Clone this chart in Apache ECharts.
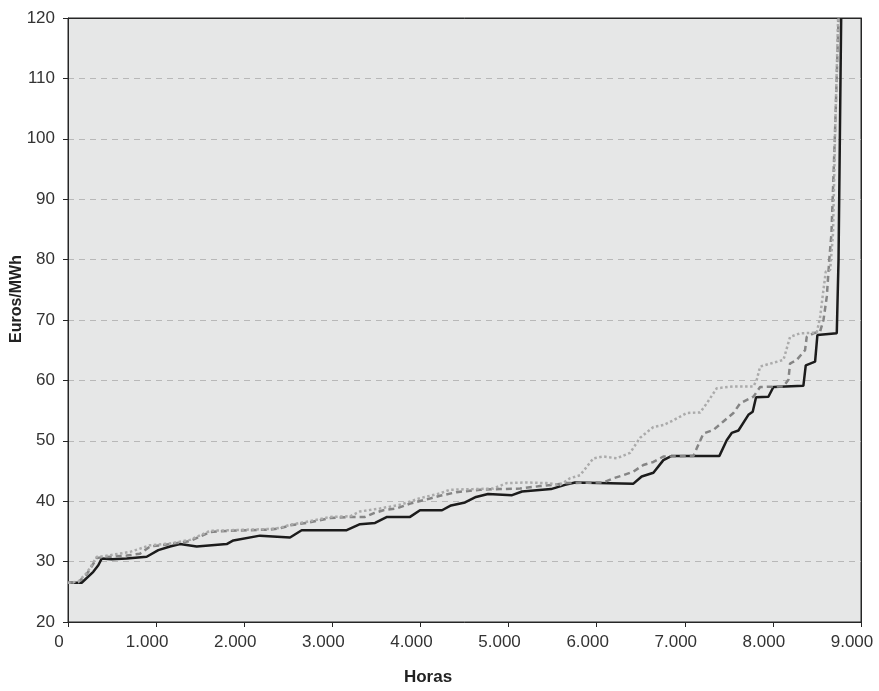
<!DOCTYPE html>
<html>
<head>
<meta charset="utf-8">
<script src="https://cdn.jsdelivr.net/npm/echarts@6/dist/echarts.min.js"></script>
<style>
html,body{margin:0;padding:0;background:#fff;}
#c{width:879px;height:691px;}
</style>
</head>
<body>
<div id="c"></div>
<script>
// Hours (x) and price (Euros/MWh) for each duration curve
var solidSeries = [[0,26.5],[155,26.5],[287,28.3],[344,29.4],[382,30.5],[496,30.4],[666,30.5],[893,30.8],[1025,31.9],[1158,32.5],[1271,32.9],[1461,32.5],[1801,32.9],[1877,33.5],[2179,34.3],[2520,34.0],[2652,35.2],[3163,35.2],[3314,36.2],[3485,36.4],[3621,37.4],[3882,37.4],[3995,38.5],[4245,38.5],[4347,39.3],[4506,39.8],[4631,40.7],[4767,41.2],[5040,41.0],[5153,41.6],[5482,42.0],[5641,42.7],[5755,43.1],[6417,42.9],[6511,44.1],[6644,44.7],[6757,46.8],[6852,47.5],[7393,47.5],[7476,50.1],[7533,51.3],[7609,51.7],[7722,54.3],[7771,54.8],[7809,57.2],[7949,57.3],[8006,58.9],[8346,59.1],[8373,62.5],[8479,63.1],[8505,67.5],[8725,67.8],[8745,80],[8760,100],[8775,120]];
var dashedSeries = [[0,26.5],[117,26.6],[212,27.9],[269,29.2],[326,30.6],[380,30.7],[666,31.0],[817,31.3],[931,32.5],[1158,32.9],[1385,33.4],[1612,34.9],[1839,35.1],[2293,35.3],[2406,35.5],[2520,36.0],[2747,36.5],[2974,37.2],[3238,37.4],[3371,37.4],[3466,38.0],[3579,38.5],[3731,38.8],[3882,39.6],[4071,40.3],[4222,40.9],[4412,41.5],[4677,41.9],[4904,42.0],[5131,42.1],[5358,42.5],[5509,42.7],[5660,43.0],[6076,43.1],[6190,43.8],[6300,44.3],[6417,44.9],[6530,46.0],[6644,46.5],[6757,47.4],[7098,47.5],[7211,51.2],[7325,51.8],[7438,53.2],[7552,54.6],[7628,56.2],[7779,57.3],[7855,58.9],[8120,59.0],[8176,60.1],[8195,62.8],[8271,63.4],[8365,65.0],[8384,67.2],[8460,67.8],[8536,68.1],[8574,70.0],[8612,73.9],[8640,80.0],[8665,84.4],[8705,101],[8745,120]];
var dottedSeries = [[0,26.5],[117,26.7],[212,28.1],[269,29.4],[326,30.8],[363,30.8],[704,31.6],[931,32.7],[1158,33.0],[1385,33.6],[1612,35.1],[1839,35.2],[2293,35.4],[2406,35.6],[2520,36.1],[2747,36.7],[2974,37.4],[3201,37.5],[3314,38.3],[3541,38.8],[3768,39.4],[3995,40.5],[4222,41.3],[4336,41.9],[4601,42.0],[4828,42.1],[4980,43.0],[5207,43.1],[5434,43.0],[5585,42.7],[5698,43.8],[5812,44.3],[5963,47.1],[6076,47.4],[6228,47.1],[6379,48.0],[6493,50.5],[6644,52.3],[6757,52.6],[6871,53.4],[7022,54.6],[7174,54.7],[7249,56.2],[7363,58.7],[7552,59.0],[7779,59.0],[7817,60.1],[7855,62.3],[8120,63.4],[8195,67.2],[8309,67.8],[8498,67.9],[8536,70.5],[8574,75.0],[8600,78.0],[8650,78.3],[8683,84.4],[8706,101],[8740,120]];
var xTicks = {min:0, max:9000, interval:1000};
var yTicks = {min:20, max:120, interval:10};
var xTitle = 'Horas';
var yTitle = 'Euros/MWh';

var chart = echarts.init(document.getElementById('c'));
var FONT = '"Liberation Sans", Arial, sans-serif';
function fmtThousands(v){
  return String(v).replace(/\B(?=(\d{3})+(?!\d))/g, '.');
}
var frameAxisX = {type:'value', position:'top', min:xTicks.min, max:xTicks.max, interval:xTicks.interval,
  axisLine:{show:true, onZero:false, lineStyle:{color:'#262626', width:1}}, axisTick:{show:false}, axisLabel:{show:false}, splitLine:{show:false}};
var frameAxisY = {type:'value', position:'right', min:yTicks.min, max:yTicks.max, interval:yTicks.interval,
  axisLine:{show:true, onZero:false, lineStyle:{color:'#262626', width:1}}, axisTick:{show:false}, axisLabel:{show:false}, splitLine:{show:false}};
chart.setOption({
  animation:false,
  backgroundColor:'#ffffff',
  grid:{left:68, top:18, right:18, bottom:69, show:true, backgroundColor:'#e6e7e7', borderColor:'#262626', borderWidth:1},
  xAxis:[{type:'value', min:xTicks.min, max:xTicks.max, interval:xTicks.interval,
    axisLine:{show:true, onZero:false, lineStyle:{color:'#262626', width:1}},
    axisTick:{show:true, length:5, lineStyle:{color:'#262626'}},
    axisLabel:{color:'#333', fontFamily:FONT, fontSize:17, margin:12, padding:[0,18,0,0], formatter:fmtThousands},
    splitLine:{show:false}}, frameAxisX],
  yAxis:[{type:'value', min:yTicks.min, max:yTicks.max, interval:yTicks.interval,
    axisLine:{show:true, onZero:false, lineStyle:{color:'#262626', width:1}},
    axisTick:{show:true, length:5, lineStyle:{color:'#262626'}},
    axisLabel:{color:'#333', fontFamily:FONT, fontSize:17, margin:13},
    splitLine:{show:true, showMinLine:false, showMaxLine:false, lineStyle:{color:'#b8b8b8', type:[6,5], width:1}}}, frameAxisY],
  graphic:[
    {type:'text', x:428, y:677, style:{text:xTitle, font:'bold 17px '+FONT, fill:'#222', textAlign:'center', textVerticalAlign:'middle'}},
    {type:'text', rotation:Math.PI/2, x:17, y:299, style:{text:yTitle, font:'bold 16px '+FONT, fill:'#222', textAlign:'center', textVerticalAlign:'middle'}}
  ],
  series:[
    {type:'line', data:solidSeries, showSymbol:false, symbol:'none', lineStyle:{color:'#1c1c1c', width:2.5}, z:2},
    {type:'line', data:dashedSeries, showSymbol:false, symbol:'none', lineStyle:{color:'#858585', width:2.5, type:[6,4]}, z:3},
    {type:'line', data:dottedSeries, showSymbol:false, symbol:'none', lineStyle:{color:'#ababab', width:2.5, type:[2.5,2.5]}, z:4}
  ]
});
</script>
</body>
</html>
